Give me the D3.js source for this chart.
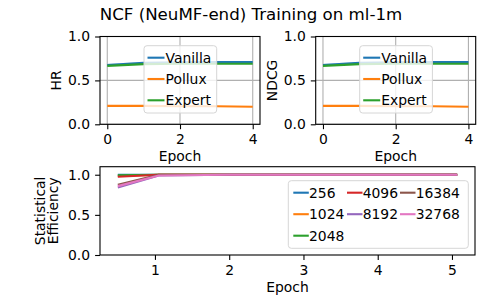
<!DOCTYPE html>
<html>
<head>
<meta charset="utf-8">
<script src="https://cdn.jsdelivr.net/npm/d3@7"></script>
<style>
  body { margin: 0; background: #fff; }
</style>
</head>
<body>
<div id="chart"></div>
<script>
// top panels: epochs 0..4
var epochs = [0, 1, 2, 3, 4];
var methods = ["Vanilla", "Pollux", "Expert"];
var hrVanilla = [0.675, 0.700, 0.705, 0.710, 0.710];
var hrPollux  = [0.210, 0.210, 0.205, 0.205, 0.200];
var hrExpert  = [0.665, 0.685, 0.690, 0.690, 0.690];
var ndcgVanilla = [0.675, 0.700, 0.705, 0.710, 0.710];
var ndcgPollux  = [0.210, 0.210, 0.205, 0.205, 0.200];
var ndcgExpert  = [0.665, 0.685, 0.690, 0.690, 0.690];
var vanillaBandHi = [0.690, 0.710, 0.712, 0.715, 0.715];

// bottom panel: statistical efficiency per batch size
var batchSizes = ["256", "1024", "2048", "4096", "8192", "16384", "32768"];
var effEpochs = [0.5, 1.05, 2, 3, 4, 5.07];
var eff256   = [1.000, 1.0, 1.0, 1.0, 1.0, 1.0];
var eff1024  = [0.985, 1.0, 1.0, 1.0, 1.0, 1.0];
var eff2048  = [0.993, 1.0, 1.0, 1.0, 1.0, 1.0];
var eff4096  = [0.975, 1.0, 1.0, 1.0, 1.0, 1.0];
var eff8192  = [0.840, 0.99, 1.0, 1.0, 1.0, 1.0];
var eff16384 = [0.875, 1.0, 1.0, 1.0, 1.0, 1.0];
var eff32768 = [0.858, 0.99, 1.0, 1.0, 1.0, 1.0];

var colors = ["#1f77b4", "#ff7f0e", "#2ca02c", "#d62728", "#9467bd", "#8c564b", "#e377c2"];
var methodColors = {Vanilla: "#1f77b4", Pollux: "#ff7f0e", Expert: "#2ca02c"};
var FONT = "'DejaVu Sans'";

var width = 500, height = 300;
var svg = d3.select("#chart").append("svg")
  .attr("width", width).attr("height", height);
svg.append("rect").attr("width", width).attr("height", height).attr("fill", "#fff");

svg.append("text").attr("x", 251).attr("y", 19.7).attr("text-anchor", "middle")
  .style("font-size", "16.67px").text("NCF (NeuMF-end) Training on ml-1m");

function topPanel(left, ylab, series) {
  var top = 36.5, bottom = 124.3, right = left + 160;
  var x = d3.scaleLinear().domain([-0.2, 4.2]).range([left, right]);
  var y = d3.scaleLinear().domain([0, 1]).range([bottom, top]);
  var g = svg.append("g");

  // grid
  [0, 2, 4].forEach(function(t) {
    g.append("line").attr("x1", x(t)).attr("x2", x(t)).attr("y1", top).attr("y2", bottom)
      .attr("stroke", "#b0b0b0").attr("stroke-width", 1.1);
  });
  [0, 0.5, 1].forEach(function(t) {
    g.append("line").attr("x1", left).attr("x2", right).attr("y1", y(t)).attr("y2", y(t))
      .attr("stroke", "#b0b0b0").attr("stroke-width", 1.1);
  });

  // band
  g.append("path")
    .datum(epochs.map(function(e, i) { return [e, series.Vanilla[i], vanillaBandHi[i]]; }))
    .attr("fill", "#1f77b4").attr("opacity", 0.2)
    .attr("d", d3.area().x(function(d){return x(d[0]);}).y0(function(d){return y(d[1]);}).y1(function(d){return y(d[2]);}));

  var line = d3.line().x(function(d){return x(d[0]);}).y(function(d){return y(d[1]);});
  methods.forEach(function(m) {
    g.append("path").datum(epochs.map(function(e, i) { return [e, series[m][i]]; }))
      .attr("fill", "none").attr("stroke", methodColors[m]).attr("stroke-width", 2.1)
      .attr("d", line);
  });

  g.append("g").attr("transform", "translate(0," + bottom + ")")
    .call(d3.axisBottom(x).tickValues([0, 2, 4]).tickSize(4.9).tickPadding(5).tickFormat(d3.format("d")));
  g.append("g").attr("transform", "translate(" + left + ",0)")
    .call(d3.axisLeft(y).tickValues([0, 0.5, 1]).tickSize(4.9).tickPadding(5).tickFormat(d3.format(".1f")));
  g.selectAll(".domain").remove();
  g.append("rect").attr("x", left).attr("y", top).attr("width", right - left).attr("height", bottom - top)
    .attr("fill", "none").attr("stroke", "#000").attr("stroke-width", 1.1);

  g.append("text").attr("x", (left + right) / 2).attr("y", 160.5).attr("text-anchor", "middle")
    .style("font-size", "13.9px").text("Epoch");
  g.append("text").attr("transform", "translate(" + (left - 39) + "," + ((top + bottom) / 2) + ") rotate(-90)")
    .attr("text-anchor", "middle").style("font-size", "13.9px").text(ylab);

  // legend
  var lx = left + 44, ly = 45.7;
  var lg = g.append("g").attr("transform", "translate(" + lx + "," + ly + ")");
  lg.append("rect").attr("width", 72.7).attr("height", 67.3).attr("rx", 3)
    .attr("fill", "#fff").attr("fill-opacity", 0.8).attr("stroke", "#d6d6d6").attr("stroke-width", 1);
  methods.forEach(function(m, i) {
    var cy = 12 + i * 21.3;
    lg.append("line").attr("x1", 3.5).attr("x2", 20.5).attr("y1", cy).attr("y2", cy)
      .attr("stroke", methodColors[m]).attr("stroke-width", 2.1);
    lg.append("text").attr("x", 21.5).attr("y", cy + 5).style("font-size", "13.9px").text(m);
  });

  g.selectAll(".tick text").style("font-size", "13.9px");
  g.selectAll(".tick line").attr("stroke-width", 1.1);
}

topPanel(100, "HR", {Vanilla: hrVanilla, Pollux: hrPollux, Expert: hrExpert});
topPanel(315.7, "NDCG", {Vanilla: ndcgVanilla, Pollux: ndcgPollux, Expert: ndcgExpert});

// bottom panel
(function() {
  var left = 100, right = 475, top = 166.7, bottom = 255;
  var x = d3.scaleLinear().domain([0.26, 5.31]).range([left, right]);
  var y = d3.scaleLinear().domain([0, 1.1]).range([bottom, top]);
  var g = svg.append("g");
  var effs = [eff256, eff1024, eff2048, eff4096, eff8192, eff16384, eff32768];
  var line = d3.line().x(function(d){return x(d[0]);}).y(function(d){return y(d[1]);});
  effs.forEach(function(vals, k) {
    g.append("path").datum(effEpochs.map(function(e, i) { return [e, vals[i]]; }))
      .attr("fill", "none").attr("stroke", colors[k]).attr("stroke-width", 2.1).attr("d", line);
  });

  g.append("g").attr("transform", "translate(0," + bottom + ")")
    .call(d3.axisBottom(x).tickValues([1, 2, 3, 4, 5]).tickSize(4.9).tickPadding(5).tickFormat(d3.format("d")));
  g.append("g").attr("transform", "translate(" + left + ",0)")
    .call(d3.axisLeft(y).tickValues([0, 0.5, 1]).tickSize(4.9).tickPadding(5).tickFormat(d3.format(".1f")));
  g.selectAll(".domain").remove();
  g.append("rect").attr("x", left).attr("y", top).attr("width", right - left).attr("height", bottom - top)
    .attr("fill", "none").attr("stroke", "#000").attr("stroke-width", 1.1);

  g.append("text").attr("x", (left + right) / 2).attr("y", 291.5).attr("text-anchor", "middle")
    .style("font-size", "13.9px").text("Epoch");
  var yl = g.append("text").attr("transform", "translate(45," + ((top + bottom) / 2) + ") rotate(-90)")
    .attr("text-anchor", "middle").style("font-size", "13.9px");
  yl.append("tspan").attr("x", 0).attr("dy", 0).text("Statistical");
  yl.append("tspan").attr("x", 0).attr("dy", 13.2).text("Efficiency");

  var lg = g.append("g").attr("transform", "translate(288.3,180.7)");
  lg.append("rect").attr("width", 180).attr("height", 67.6).attr("rx", 3)
    .attr("fill", "#fff").attr("fill-opacity", 0.8).attr("stroke", "#d6d6d6").attr("stroke-width", 1);
  var colX = [5, 58.7, 111.7];
  batchSizes.forEach(function(b, i) {
    var col = i < 3 ? 0 : (i < 5 ? 1 : 2);
    var row = i < 3 ? i : (i < 5 ? i - 3 : i - 5);
    var cx = colX[col], cy = 12 + row * 21.5;
    lg.append("line").attr("x1", cx).attr("x2", cx + 15.5).attr("y1", cy).attr("y2", cy)
      .attr("stroke", colors[i]).attr("stroke-width", 2.1);
    lg.append("text").attr("x", cx + 15.7).attr("y", cy + 5).style("font-size", "13.9px").text(b);
  });

  g.selectAll(".tick text").style("font-size", "13.9px");
  g.selectAll(".tick line").attr("stroke-width", 1.1);
})();
svg.selectAll("text").style("font-family", FONT).attr("fill", "#000");
</script>
</body>
</html>
